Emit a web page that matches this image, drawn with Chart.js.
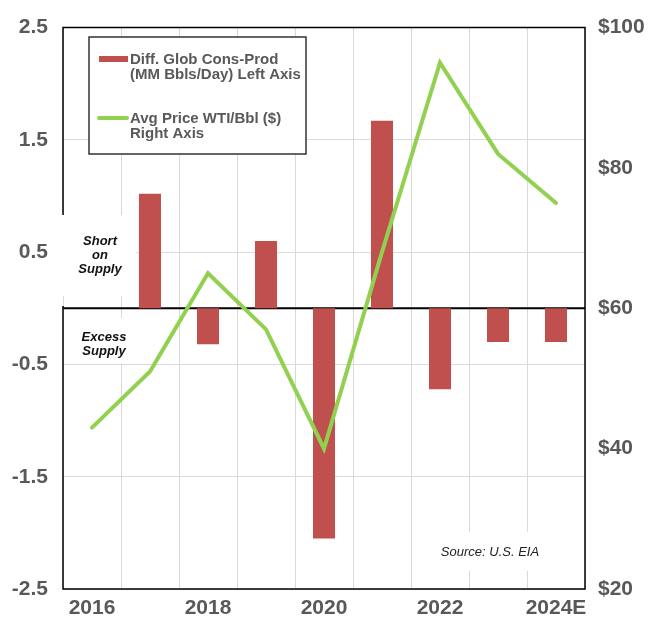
<!DOCTYPE html>
<html>
<head>
<meta charset="utf-8">
<script src="https://cdn.jsdelivr.net/npm/chart.js@4"></script>
<style>
  html, body { margin: 0; padding: 0; background: #fff; }
  #wrap { width: 648px; height: 621px; }
</style>
</head>
<body>
<div id="wrap"><canvas id="chart" width="648" height="621"></canvas></div>
<script>
// data
const years = ['2016', '2017', '2018', '2019', '2020', '2021', '2022', '2023', '2024E'];
const supplyGap = [0, 1.02, -0.32, 0.60, -2.05, 1.67, -0.72, -0.30, -0.30];   // MM bbl/day
const wtiPrice = [43, 51, 65, 57, 40, 68, 95, 82, 75];                      // $/bbl
const gapLabel = ['Diff. Glob Cons-Prod', '(MM Bbls/Day) Left Axis'];
const priceLabel = ['Avg Price WTI/Bbl ($)', 'Right Axis'];
const leftTicks = { min: -2.5, max: 2.5, step: 1 };
const rightTicks = { min: 20, max: 100, step: 20 };

const RED = '#c0504d';
const GREEN = '#92d050';
const GREY = '#595959';
const FONT = "'Liberation Sans', Arial, Helvetica, sans-serif";

// white boxes, zero line, frame and the hand-made legend / notes
const overlay = {
  id: 'overlay',
  beforeDatasetsDraw(chart) {
    const { ctx, chartArea: a, scales } = chart;
    ctx.save();
    // notes sit on white patches that hide the grid
    ctx.fillStyle = '#fff';
    ctx.fillRect(56, 215, 80, 81);
    ctx.fillRect(66, 318, 76, 45);
    ctx.fillRect(422, 532, 140, 39);

    // frame
    ctx.strokeStyle = '#000';
    ctx.lineWidth = 1.5;
    ctx.beginPath();
    ctx.moveTo(a.left, 215); ctx.lineTo(a.left, a.top); ctx.lineTo(a.right, a.top);
    ctx.lineTo(a.right, a.bottom); ctx.lineTo(a.left, a.bottom); ctx.lineTo(a.left, 306);
    ctx.stroke();

    // zero line
    const y0 = scales.y.getPixelForValue(0);
    ctx.lineWidth = 2;
    ctx.beginPath();
    ctx.moveTo(a.left, y0);
    ctx.lineTo(a.right, y0);
    ctx.stroke();

    ctx.fillStyle = '#111';
    ctx.textAlign = 'center';
    ctx.textBaseline = 'middle';
    ctx.font = 'italic bold 13px ' + FONT;
    ['Short', 'on', 'Supply'].forEach((t, i) => ctx.fillText(t, 100, 241 + i * 14));
    ['Excess', 'Supply'].forEach((t, i) => ctx.fillText(t, 104, 337 + i * 14));
    ctx.font = 'italic 13px ' + FONT;
    ctx.fillStyle = '#222';
    ctx.fillText('Source: U.S. EIA', 490, 552);
    ctx.restore();
  },
  afterDatasetsDraw(chart) {
    const { ctx } = chart;
    ctx.save();
    // legend box
    ctx.fillStyle = '#fff';
    ctx.fillRect(89, 37, 217, 117);
    ctx.strokeStyle = '#333';
    ctx.lineWidth = 1.5;
    ctx.strokeRect(89, 37, 217, 117);

    ctx.fillStyle = RED;
    ctx.fillRect(99, 56, 29, 6);
    ctx.strokeStyle = GREEN;
    ctx.lineWidth = 4;
    ctx.lineCap = 'round';
    ctx.beginPath();
    ctx.moveTo(99, 118);
    ctx.lineTo(127, 118);
    ctx.stroke();

    ctx.fillStyle = GREY;
    ctx.font = 'bold 15px ' + FONT;
    ctx.textAlign = 'left';
    ctx.textBaseline = 'alphabetic';
    gapLabel.forEach((t, i) => ctx.fillText(t, 130, 64 + i * 15));
    priceLabel.forEach((t, i) => ctx.fillText(t, 130, 123 + i * 15));
    ctx.restore();
  }
};

const tickFont = { family: FONT, size: 21, weight: 'bold' };

new Chart(document.getElementById('chart'), {
  type: 'bar',
  data: {
    labels: years,
    datasets: [
      {
        type: 'line',
        label: priceLabel.join(' '),
        data: wtiPrice,
        yAxisID: 'y1',
        borderColor: GREEN,
        backgroundColor: GREEN,
        borderWidth: 4,
        pointRadius: 0,
        tension: 0,
        borderCapStyle: 'round',
        borderJoinStyle: 'miter',
        order: 0
      },
      {
        label: gapLabel.join(' '),
        data: supplyGap,
        yAxisID: 'y',
        backgroundColor: RED,
        categoryPercentage: 1,
        barPercentage: 0.38,
        order: 1
      }
    ]
  },
  options: {
    responsive: false,
    animation: false,
    layout: { padding: { top: 23, left: 0, right: 0, bottom: 0 } },
    plugins: {
      legend: { display: false },
      tooltip: { enabled: false }
    },
    scales: {
      x: {
        offset: true,
        grid: { color: '#d9d9d9', lineWidth: 1, drawTicks: false, offset: true },
        border: { display: false },
        ticks: {
          autoSkip: false,
          maxRotation: 0,
          padding: 7,
          color: GREY,
          font: tickFont,
          callback: (v, i) => (i % 2 === 0 ? years[i] : '')
        },
        afterFit: s => { s.height = 32; }
      },
      y: {
        position: 'left',
        min: leftTicks.min,
        max: leftTicks.max,
        grid: { color: '#d9d9d9', lineWidth: 1, drawTicks: false },
        border: { display: false },
        ticks: { stepSize: leftTicks.step, padding: 15, color: GREY, font: tickFont },
        afterFit: s => { s.width = 63; }
      },
      y1: {
        position: 'right',
        min: rightTicks.min,
        max: rightTicks.max,
        grid: { display: false, drawTicks: false },
        border: { display: false },
        ticks: { stepSize: rightTicks.step, padding: 13, color: GREY, font: tickFont, callback: v => '$' + v },
        afterFit: s => { s.width = 63; }
      }
    }
  },
  plugins: [overlay]
});
</script>
</body>
</html>
